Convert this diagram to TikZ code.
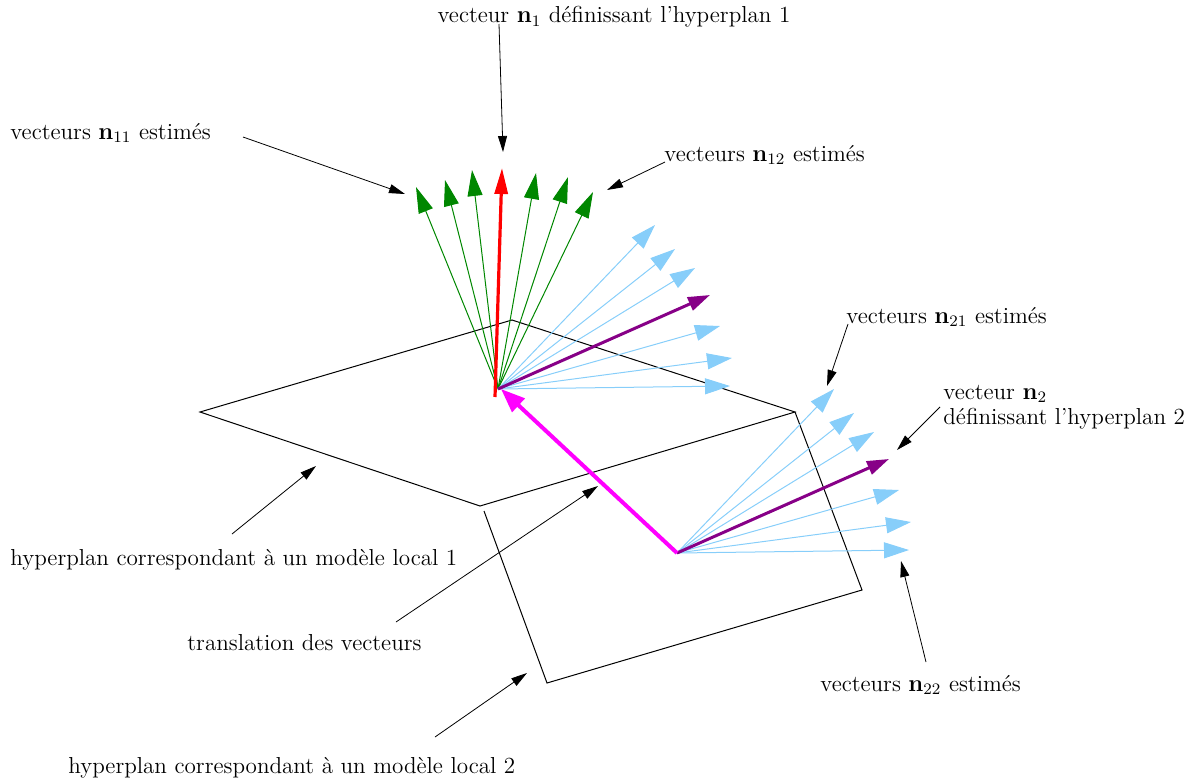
\documentclass[tikz,border=0pt]{standalone}
\usepackage{amsmath,amssymb}
\usepackage{tikz}
\usetikzlibrary{arrows.meta}

\definecolor{vgreen}{RGB}{0,135,0}
\definecolor{vblue}{RGB}{135,206,250}
\definecolor{vpurple}{RGB}{135,0,135}
\definecolor{vpink}{RGB}{255,0,255}

\tikzset{
  lbl/.style={inner sep=0pt,font=\fontsize{11.55}{12.5}\selectfont},
  ann/.style={-{Triangle[length=8pt,width=4.5pt]},line width=0.4pt},
  plane/.style={line width=0.5pt},
  vgr/.style={vgreen,line width=0.5pt,-{Triangle[length=13pt,width=7.5pt]}},
  vbl/.style={vblue,line width=0.5pt,-{Triangle[length=12.5pt,width=8pt]}},
  vpu/.style={vpurple,line width=1.5pt,-{Triangle[length=11pt,width=7pt]}},
}

\begin{document}
\begin{tikzpicture}[x=0.5pt,y=-0.5pt]
\useasboundingbox (0,0) rectangle (1204,782);

\draw[plane] (200,412) -- (512,320) -- (795,412) -- (480,506) -- cycle;
\draw[plane] (484,511) -- (547,683) -- (862,590) -- (795,412);

\coordinate (o1) at (498,389);
\coordinate (o2) at (677,553);

\foreach \x/\y in {416/187,445/180,472/170,536/173,568/177,593/192}
  \draw[vgr] (o1) -- (\x,\y);
\draw[red,line width=1.6pt,-{Triangle[length=13pt,width=6.5pt]}] (495,397) -- (502,168);

\foreach \o in {o1,o2} {
  \foreach \dx/\dy in {157/-164,177/-140,197/-121,222/-63,234/-31,232/-3}
    \draw[vbl] (\o) -- ++(\dx,\dy);
  \draw[vpu] (\o) -- ++(212,-94);
}
\draw[vpink,line width=2pt,-{Triangle[length=12pt,width=9pt]}] (o2) -- (501,389);

\node[lbl] (l1) at (614,17) {vecteur $\mathbf{n}_1$ définissant l'hyperplan 1};
\node[lbl,anchor=west] (l11) at (10,133) {vecteurs $\mathbf{n}_{11}$ estimés};
\node[lbl,anchor=west] (l12) at (664,155) {vecteurs $\mathbf{n}_{12}$ estimés};
\node[lbl,anchor=west] (l21) at (846,317) {vecteurs $\mathbf{n}_{21}$ estimés};
\node[lbl,anchor=west,align=left] (l2) at (943,407) {vecteur $\mathbf{n}_2$\\définissant l'hyperplan 2};
\node[lbl,anchor=west] (lh1) at (10,560) {hyperplan correspondant à un modèle local 1};
\node[lbl,anchor=west] (ltr) at (187,643) {translation des vecteurs};
\node[lbl,anchor=west] (l22) at (820,685) {vecteurs $\mathbf{n}_{22}$ estimés};
\node[lbl,anchor=west] (lh2) at (68,768) {hyperplan correspondant à un modèle local 2};

\coordinate (t1) at (503,152);
\coordinate (t11) at (405,194);
\coordinate (t12) at (607,190);
\coordinate (t21) at (827,386);
\coordinate (t2) at (897,450);
\coordinate (t22) at (901,561);
\coordinate (th1) at (316,466);
\coordinate (ttr) at (598,486);
\coordinate (th2) at (527,673);

\draw[ann] (499,24) -- (t1);
\draw[ann] (243,137) -- (t11);
\draw[ann] (665,162) -- (t12);
\draw[ann] (848,324) -- (t21);
\draw[ann] (940,407) -- (t2);
\draw[ann] (926,662) -- (t22);
\draw[ann] (232,534) -- (th1);
\draw[ann] (396,622) -- (ttr);
\draw[ann] (435,737) -- (th2);
\end{tikzpicture}
\end{document}
